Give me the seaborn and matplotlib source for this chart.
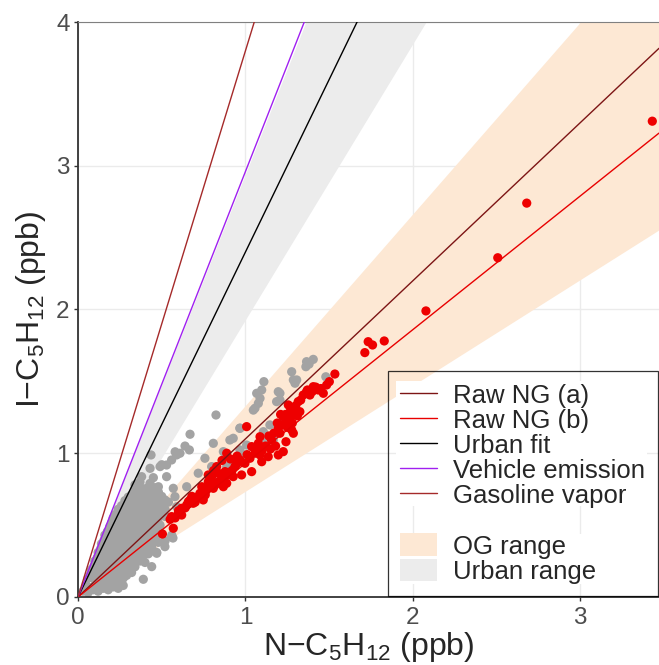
import numpy as np
import pandas as pd
import matplotlib.pyplot as plt
import seaborn as sns
from matplotlib.lines import Line2D
from matplotlib.patches import Patch, Rectangle

# reference lines (slope through origin)
line_names = ["Raw NG (a)", "Raw NG (b)", "Urban fit", "Vehicle emission", "Gasoline vapor"]
line_slopes = [1.10, 0.93, 2.40, 2.96, 3.80]
line_colors = ["#7d1515", "#e80000", "#000000", "#a020f0", "#a52a2a"]

# shaded ranges (low / high slope)
band_names = ["OG range", "Urban range"]
band_low = [0.736, 1.92]
band_high = [1.333, 2.93]
band_colors = ["#fde8d4", "#ececec"]

# urban samples (grey), scattered ones
urban_x = [1.405, 1.365, 1.361, 1.38, 1.276, 1.306, 1.296, 1.48, 1.11, 1.097, 1.067, 1.087, 1.077, 1.057,
           1.196, 1.186, 1.206, 0.824, 0.967, 0.927, 0.907, 0.808, 0.669, 0.639, 0.665, 0.758, 0.868, 0.888,
           0.997, 0.967, 1.107, 1.146, 1.116, 1.166, 1.206, 0.718, 0.649, 0.798, 0.918, 1.007, 0.436, 0.43,
           0.38, 0.49, 0.529, 0.559, 0.589, 0.609, 0.529, 0.48, 0.569, 0.41, 0.39, 0.48, 0.519, 0.579, 0.589,
           0.559, 0.519, 0.47, 0.39, 0.44, 0.38, 1.286, 1.206, 1.047, 0.967, 0.50, 0.58, 0.567]
urban_y = [1.653, 1.637, 1.602, 1.62, 1.567, 1.51, 1.487, 1.532, 1.498, 1.44, 1.417, 1.382, 1.347, 1.313,
           1.428, 1.359, 1.37, 1.266, 1.173, 1.104, 1.092, 1.069, 1.132, 1.05, 1.023, 0.965, 1.011, 0.907,
           0.988, 1.023, 1.15, 1.197, 1.104, 1.092, 1.208, 0.861, 0.767, 0.907, 0.941, 1.057, 0.988, 0.895,
           0.837, 0.907, 0.918, 0.953, 0.988, 1.0, 0.837, 0.767, 0.756, 0.756, 0.698, 0.698, 0.675, 0.698, 0.628,
           0.419, 0.35, 0.304, 0.123, 0.211, 0.257, 1.51, 1.417, 1.30, 1.175, 0.92, 1.01, 0.41]

# urban samples (grey), dense cluster near the origin
dense_x = [0.03, 0.06, 0.09, 0.12, 0.15, 0.18, 0.21, 0.24, 0.27, 0.05, 0.11,
           0.045, 0.075, 0.105, 0.135, 0.165, 0.195, 0.225, 0.255,
           0.06, 0.10, 0.14, 0.17, 0.20, 0.23, 0.27,
           0.075, 0.095, 0.125, 0.155, 0.185, 0.215, 0.245, 0.29,
           0.08, 0.11, 0.14, 0.18, 0.21, 0.25, 0.28, 0.32,
           0.095, 0.125, 0.155, 0.195, 0.23, 0.265, 0.30, 0.34,
           0.10, 0.13, 0.16, 0.19, 0.22, 0.26, 0.29, 0.33, 0.37, 0.40,
           0.115, 0.145, 0.175, 0.205, 0.235, 0.275, 0.31, 0.35, 0.385,
           0.12, 0.15, 0.18, 0.21, 0.24, 0.27, 0.31, 0.34, 0.38, 0.42, 0.45,
           0.135, 0.165, 0.195, 0.225, 0.255, 0.29, 0.325, 0.36, 0.40, 0.43,
           0.14, 0.17, 0.20, 0.23, 0.26, 0.29, 0.33, 0.36, 0.40, 0.44, 0.48,
           0.155, 0.185, 0.215, 0.245, 0.275, 0.31, 0.345, 0.375, 0.41, 0.45,
           0.16, 0.19, 0.22, 0.25, 0.28, 0.31, 0.35, 0.38, 0.42, 0.46, 0.50,
           0.175, 0.205, 0.235, 0.265, 0.295, 0.33, 0.365, 0.40, 0.44, 0.475,
           0.19, 0.22, 0.25, 0.28, 0.31, 0.34, 0.37, 0.41, 0.45, 0.49,
           0.20, 0.235, 0.265, 0.295, 0.325, 0.355, 0.39, 0.43, 0.465,
           0.21, 0.24, 0.27, 0.30, 0.33, 0.36, 0.40, 0.44, 0.48, 0.52,
           0.225, 0.255, 0.285, 0.315, 0.345, 0.38, 0.42, 0.46, 0.50,
           0.24, 0.27, 0.30, 0.33, 0.36, 0.40, 0.44, 0.48, 0.52,
           0.26, 0.29, 0.32, 0.35, 0.385, 0.425, 0.465, 0.505,
           0.28, 0.31, 0.34, 0.37, 0.41, 0.45, 0.49, 0.54,
           0.30, 0.335, 0.37, 0.41, 0.45, 0.50,
           0.32, 0.36, 0.40, 0.44, 0.48,
           0.34, 0.38, 0.42, 0.46,
           0.34, 0.37, 0.43, 0.45, 0.52, 0.56, 0.47]
dense_y = [0.04, 0.03, 0.05, 0.04, 0.06, 0.05, 0.07, 0.06, 0.08, 0.08, 0.09,
           0.06, 0.065, 0.07, 0.075, 0.08, 0.09, 0.09, 0.095,
           0.13, 0.12, 0.11, 0.13, 0.12, 0.11, 0.13,
           0.16, 0.15, 0.145, 0.155, 0.15, 0.145, 0.155, 0.15,
           0.19, 0.17, 0.18, 0.19, 0.17, 0.18, 0.19, 0.17,
           0.215, 0.21, 0.205, 0.215, 0.21, 0.205, 0.215, 0.21,
           0.25, 0.23, 0.24, 0.25, 0.23, 0.24, 0.25, 0.23, 0.25, 0.24,
           0.275, 0.27, 0.265, 0.275, 0.27, 0.265, 0.275, 0.27, 0.28,
           0.31, 0.29, 0.30, 0.31, 0.29, 0.31, 0.30, 0.29, 0.31, 0.30, 0.32,
           0.335, 0.33, 0.325, 0.335, 0.33, 0.325, 0.335, 0.33, 0.335, 0.33,
           0.37, 0.35, 0.36, 0.37, 0.35, 0.36, 0.37, 0.35, 0.37, 0.36, 0.38,
           0.395, 0.39, 0.385, 0.395, 0.39, 0.385, 0.395, 0.39, 0.395, 0.40,
           0.43, 0.41, 0.42, 0.43, 0.41, 0.42, 0.43, 0.41, 0.42, 0.43, 0.44,
           0.455, 0.45, 0.445, 0.455, 0.45, 0.445, 0.455, 0.45, 0.455, 0.46,
           0.49, 0.47, 0.48, 0.49, 0.47, 0.48, 0.49, 0.47, 0.48, 0.50,
           0.515, 0.51, 0.505, 0.515, 0.51, 0.505, 0.515, 0.51, 0.52,
           0.55, 0.53, 0.54, 0.55, 0.53, 0.54, 0.55, 0.53, 0.55, 0.56,
           0.575, 0.57, 0.565, 0.575, 0.57, 0.565, 0.575, 0.57, 0.58,
           0.61, 0.59, 0.60, 0.61, 0.59, 0.60, 0.61, 0.59, 0.61,
           0.635, 0.63, 0.625, 0.635, 0.63, 0.625, 0.635, 0.63,
           0.67, 0.65, 0.66, 0.67, 0.65, 0.66, 0.67, 0.66,
           0.695, 0.69, 0.685, 0.695, 0.69, 0.70,
           0.71, 0.73, 0.72, 0.71, 0.73,
           0.75, 0.755, 0.75, 0.76,
           0.78, 0.80, 0.79, 0.83, 0.39, 0.43, 0.31]

# oil & gas samples (red)
og_x = [3.43, 2.68, 2.507, 2.078, 1.733, 1.759, 1.829, 1.713,
        1.534, 1.501, 1.485, 1.405, 1.365, 1.385, 1.435, 1.465, 1.345, 1.315, 1.256, 1.296, 1.325, 1.226,
        1.266, 1.246, 1.216, 1.276, 1.286, 1.196, 1.206, 1.156, 1.242, 1.087, 1.077, 1.037, 1.007, 1.057,
        1.087, 1.136, 1.196, 1.226, 1.027, 1.097, 0.997, 0.967, 1.037, 0.977, 0.937, 0.888, 0.828, 0.878,
        0.927, 0.798, 0.778, 0.838, 0.888, 0.808, 0.868, 0.768, 0.739, 0.699, 0.748, 0.669, 0.649, 0.619,
        0.619, 0.504, 0.569, 0.559, 0.599, 0.659, 0.688, 0.728, 0.739, 0.788, 0.778,
        1.40, 1.42, 1.45, 1.37, 1.33, 1.30, 1.27, 1.24, 1.19, 1.17, 1.14, 1.12, 1.10, 1.06, 1.01, 0.95,
        0.92, 0.90, 0.86, 0.84, 0.82, 0.79, 0.76, 0.72, 0.70, 0.68, 0.64, 0.60, 0.58, 0.55, 1.21, 1.25,
        1.28, 1.31, 1.18, 1.15, 0.95, 0.91, 0.86, 0.81]
og_y = [3.31, 2.74, 2.36, 1.99, 1.776, 1.753, 1.781, 1.70,
        1.551, 1.498, 1.475, 1.463, 1.428, 1.405, 1.44, 1.417, 1.405, 1.359, 1.336, 1.301, 1.289, 1.254,
        1.254, 1.22, 1.197, 1.162, 1.139, 1.174, 1.139, 1.092, 1.08, 1.115, 1.069, 1.046, 1.185, 1.0,
        0.988, 0.976, 0.988, 1.011, 0.965, 0.941, 0.93, 0.953, 0.872, 0.849, 0.907, 1.0, 0.907, 0.872,
        0.837, 0.837, 0.802, 0.802, 0.791, 0.756, 0.767, 0.744, 0.721, 0.687, 0.675, 0.675, 0.64, 0.617,
        0.57, 0.438, 0.478, 0.559, 0.582, 0.663, 0.652, 0.721, 0.767, 0.814, 0.849,
        1.43, 1.46, 1.45, 1.44, 1.37, 1.33, 1.30, 1.27, 1.21, 1.14, 1.12, 1.05, 1.02, 1.03, 0.99, 0.93,
        0.88, 0.85, 0.83, 0.86, 0.78, 0.78, 0.71, 0.70, 0.66, 0.70, 0.62, 0.60, 0.55, 0.54, 1.27, 1.18,
        1.21, 1.26, 1.05, 1.03, 0.98, 0.96, 0.95, 0.88]

urban = pd.DataFrame({"x": urban_x + dense_x, "y": urban_y + dense_y})
og = pd.DataFrame({"x": og_x, "y": og_y})

sns.set_theme(style="white")
plt.rcParams["font.family"] = ["Liberation Sans", "DejaVu Sans"]
plt.rcParams["mathtext.fontset"] = "custom"
plt.rcParams["mathtext.rm"] = "Liberation Sans"

fig = plt.figure(figsize=(6.59, 6.65), dpi=100)
ax = fig.add_axes([0.1184, 0.1023, 0.8816, 0.8646])
xmax = 3.47
xs = np.array([0, xmax])

for lo, hi, c in zip(band_low, band_high, band_colors):
    ax.fill_between(xs, lo * xs, hi * xs, color=c, lw=0, zorder=1)

sns.scatterplot(data=urban, x="x", y="y", color="#a3a3a3", s=44, edgecolor="none", ax=ax, zorder=2)
sns.scatterplot(data=og, x="x", y="y", color="#ee0000", s=44, edgecolor="none", ax=ax, zorder=3)

for k, c in zip(line_slopes, line_colors):
    ax.plot(xs, k * xs, color=c, lw=1.0, zorder=4)

ax.set_xlim(0, xmax)
ax.set_ylim(0, 4)
ax.set_xticks([0, 1, 2, 3])
ax.set_yticks([0, 1, 2, 3, 4])
ax.grid(True, color="#ebebeb", lw=1.0)
ax.set_axisbelow(True)

for s in ["left", "bottom"]:
    ax.spines[s].set_color("#333333")
    ax.spines[s].set_linewidth(1.3)
ax.spines["top"].set_color("#808080")
ax.spines["top"].set_linewidth(0.8)
ax.spines["right"].set_visible(False)

ax.tick_params(axis="both", length=3, width=1, color="#333333", labelsize=17.5, labelcolor="#4d4d4d",
               bottom=True, left=True)
ax.tick_params(axis="x", pad=4)
ax.tick_params(axis="y", pad=3)

ax.set_xlabel("N\u2212C$_\\mathregular{5}$H$_\\mathregular{12}$ (ppb)", fontsize=23, labelpad=1)
ax.set_ylabel("I\u2212C$_\\mathregular{5}$H$_\\mathregular{12}$ (ppb)", fontsize=23, labelpad=6)

handles = [Line2D([], [], color=c, lw=1.0) for c in line_colors]
labels = list(line_names)
handles.append(Line2D([], [], color="none"))
labels.append(" ")
for n, c in zip(band_names, band_colors):
    handles.append(Patch(facecolor=c, edgecolor="none"))
    labels.append(n)

leg = ax.legend(handles, labels, loc="upper left", bbox_to_anchor=(0.5336, 0.0, 0.4647, 0.393),
                mode="expand", borderaxespad=0,
                fontsize=18.5, frameon=True, fancybox=False, facecolor="none", edgecolor="black",
                handlelength=1.45, handleheight=0.97, handletextpad=0.6, labelspacing=0.0,
                borderpad=0.47)
leg.get_frame().set_linewidth(0.9)
leg.set_zorder(6)

# white backing behind the two legend groups (legend box itself is see-through)
fig.canvas.draw()
inv = ax.transAxes.inverted()
frame = leg.get_frame().get_window_extent()
tb = [t.get_window_extent() for t in leg.get_texts()]
x0 = frame.x0 + 8
x1 = max(b.x1 for b in tb) + 2
for top, bottom in [(tb[0].y1 + 3, tb[4].y0 + 2), (tb[6].y1 + 1, tb[7].y0)]:
    (ax0, ay0), (ax1, ay1) = inv.transform([(x0, bottom), (x1, top)])
    ax.add_patch(Rectangle((ax0, ay0), ax1 - ax0, ay1 - ay0, transform=ax.transAxes,
                           facecolor="white", edgecolor="none", zorder=5.5, clip_on=False))

fig.savefig("out.png", dpi=100)
